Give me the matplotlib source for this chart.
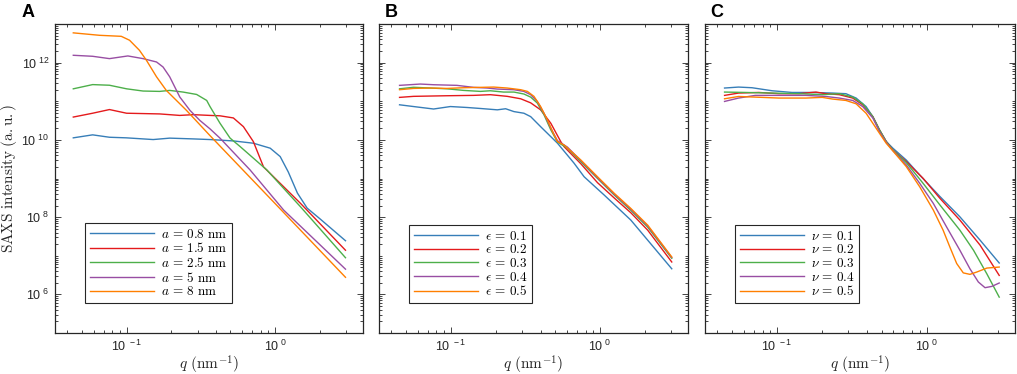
import numpy as np
import matplotlib
matplotlib.use("Agg")
import matplotlib.pyplot as plt
from matplotlib.ticker import FixedLocator, LogLocator, NullFormatter, FuncFormatter

plt.rcParams["font.family"] = ["Liberation Sans", "DejaVu Sans"]
plt.rcParams["mathtext.fontset"] = "cm"

# Panel A: varying a
qA_08 = [0.0438, 0.0591, 0.0767, 0.0995, 0.151, 0.195, 0.281, 0.364, 0.523, 0.713, 0.925, 1.08, 1.224, 1.41, 1.64, 2.01, 2.97]
IA_08 = [1.13e10, 1.35e10, 1.17e10, 1.13e10, 1.02e10, 1.11e10, 1.06e10, 1.02e10, 9.4e9, 8.2e9, 6.1e9, 3.7e9, 1.48e9, 4.2e8, 1.71e8, 8.9e7, 2.45e7]
qA_15 = [0.0438, 0.0591, 0.0767, 0.1, 0.167, 0.228, 0.281, 0.364, 0.425, 0.523, 0.611, 0.713, 0.834, 0.974, 1.48, 2.97]
IA_15 = [3.9e10, 4.9e10, 6.1e10, 4.9e10, 4.7e10, 4.3e10, 4.5e10, 4.3e10, 4.2e10, 3.7e10, 2.2e10, 9.0e9, 2.0e9, 1.11e9, 2.27e8, 1.39e7]
qA_25 = [0.0438, 0.0591, 0.0767, 0.1, 0.129, 0.167, 0.195, 0.240, 0.296, 0.346, 0.364, 0.425, 0.497, 0.581, 0.879, 1.48, 2.97]
IA_25 = [2.1e11, 2.7e11, 2.6e11, 2.1e11, 1.84e11, 1.80e11, 1.91e11, 1.73e11, 1.50e11, 1.05e11, 7.3e10, 2.7e10, 1.11e10, 6.7e9, 1.66e9, 1.85e8, 8.9e6]
qA_5 = [0.0438, 0.0591, 0.0767, 0.102, 0.129, 0.159, 0.176, 0.195, 0.228, 0.267, 0.311, 0.364, 0.425, 0.678, 1.14, 2.97]
IA_5 = [1.55e12, 1.46e12, 1.27e12, 1.49e12, 1.27e12, 1.04e12, 7.7e11, 4.3e11, 1.29e11, 5.8e10, 3.2e10, 1.93e10, 1.11e10, 1.66e9, 1.52e8, 4.5e6]
qA_8 = [0.0438, 0.0658, 0.0921, 0.1047, 0.122, 0.136, 0.159, 0.185, 0.253, 0.364, 1.0, 2.97]
IA_8 = [5.9e12, 5.1e12, 4.8e12, 3.8e12, 2.09e12, 1.15e12, 4.3e11, 1.91e11, 5.8e10, 1.29e10, 2.23e8, 2.77e6]

# Panel B: varying epsilon
qB_1 = [0.0453, 0.0562, 0.0766, 0.0993, 0.1285, 0.158, 0.205, 0.233, 0.265, 0.309, 0.343, 0.400, 0.519, 0.670, 0.783, 1.07, 1.61, 3.03]
IB_1 = [8.1e10, 7.3e10, 6.3e10, 7.3e10, 6.9e10, 6.5e10, 6.0e10, 6.4e10, 5.4e10, 4.9e10, 4.0e10, 2.2e10, 8.2e9, 2.5e9, 1.11e9, 3.7e8, 8.4e7, 4.6e6]
qB_2 = [0.0453, 0.0562, 0.0943, 0.142, 0.184, 0.239, 0.294, 0.343, 0.400, 0.468, 0.546, 0.574, 0.745, 0.963, 1.25, 1.61, 2.09, 3.03]
IB_2 = [1.26e11, 1.34e11, 1.39e11, 1.42e11, 1.48e11, 1.34e11, 1.16e11, 9.1e10, 6.0e10, 2.7e10, 9.0e9, 6.7e9, 2.4e9, 7.8e8, 3.1e8, 1.3e8, 4.6e7, 6.9e6]
qB_3 = [0.0453, 0.0562, 0.0728, 0.0943, 0.122, 0.158, 0.184, 0.226, 0.265, 0.309, 0.343, 0.380, 0.421, 0.468, 0.519, 0.605, 0.745, 0.963, 1.25, 1.61, 2.09, 3.03]
IB_3 = [2.1e11, 2.3e11, 2.2e11, 2.1e11, 1.91e11, 1.80e11, 1.87e11, 1.73e11, 1.73e11, 1.54e11, 1.28e11, 9.0e10, 4.5e10, 1.82e10, 8.8e9, 6.1e9, 2.7e9, 1.0e9, 3.7e8, 1.5e8, 5.5e7, 8.6e6]
qB_4 = [0.0453, 0.0624, 0.0766, 0.110, 0.142, 0.175, 0.205, 0.265, 0.309, 0.343, 0.380, 0.421, 0.468, 0.519, 0.605, 0.745, 0.963, 1.25, 1.61, 2.09, 3.03]
IB_4 = [2.58e11, 2.79e11, 2.68e11, 2.58e11, 2.29e11, 2.20e11, 2.07e11, 1.99e11, 1.80e11, 1.48e11, 9.9e10, 4.9e10, 2.01e10, 9.5e9, 6.5e9, 2.9e9, 1.05e9, 3.9e8, 1.6e8, 5.9e7, 9.0e6]
qB_5 = [0.0453, 0.0562, 0.0728, 0.0943, 0.122, 0.158, 0.194, 0.239, 0.294, 0.326, 0.361, 0.400, 0.444, 0.492, 0.519, 0.574, 0.745, 0.963, 1.25, 1.61, 2.09, 3.03]
IB_5 = [1.99e11, 2.15e11, 2.20e11, 2.15e11, 2.24e11, 2.29e11, 2.33e11, 2.20e11, 1.99e11, 1.80e11, 1.34e11, 7.3e10, 3.3e10, 1.35e10, 9.0e9, 7.4e9, 3.0e9, 1.11e9, 4.1e8, 1.68e8, 6.2e7, 9.3e6]

# Panel C: varying nu
qC_1 = [0.0446, 0.0553, 0.0681, 0.0928, 0.126, 0.172, 0.235, 0.289, 0.338, 0.394, 0.437, 0.484, 0.537, 0.595, 0.732, 0.900, 1.23, 1.67, 2.28, 3.06]
IC_1 = [2.20e11, 2.33e11, 2.24e11, 1.87e11, 1.69e11, 1.69e11, 1.63e11, 1.57e11, 1.21e11, 7.3e10, 4.0e10, 1.82e10, 9.1e9, 6.1e9, 3.0e9, 1.23e9, 3.4e8, 1.02e8, 2.53e7, 6.5e6]
qC_2 = [0.0446, 0.0553, 0.0755, 0.103, 0.140, 0.182, 0.212, 0.261, 0.321, 0.374, 0.437, 0.484, 0.537, 0.595, 0.732, 0.948, 1.23, 1.67, 2.28, 3.06]
IC_2 = [1.42e11, 1.63e11, 1.69e11, 1.57e11, 1.57e11, 1.73e11, 1.57e11, 1.48e11, 1.21e11, 8.1e10, 4.0e10, 1.82e10, 9.1e9, 5.5e9, 2.74e9, 1.01e9, 3.05e8, 8.4e7, 1.88e7, 3.1e6]
qC_3 = [0.0446, 0.0614, 0.0928, 0.140, 0.201, 0.261, 0.321, 0.374, 0.437, 0.484, 0.537, 0.595, 0.732, 0.948, 1.23, 1.67, 2.06, 2.53, 3.06]
IC_3 = [1.73e11, 1.69e11, 1.63e11, 1.57e11, 1.48e11, 1.57e11, 1.28e11, 8.6e10, 4.0e10, 1.82e10, 9.1e9, 5.5e9, 2.58e9, 7.5e8, 2.05e8, 4.6e7, 1.39e7, 3.4e6, 8.5e5]
qC_4 = [0.0446, 0.0553, 0.0717, 0.103, 0.156, 0.212, 0.261, 0.321, 0.374, 0.437, 0.484, 0.537, 0.595, 0.732, 0.900, 1.11, 1.36, 1.67, 1.95, 2.22, 2.46, 2.73, 3.06]
IC_4 = [9.9e10, 1.21e11, 1.42e11, 1.42e11, 1.42e11, 1.33e11, 1.21e11, 1.05e11, 7.3e10, 3.7e10, 1.65e10, 8.7e9, 5.3e9, 2.24e9, 7.5e8, 2.26e8, 5.6e7, 1.39e7, 4.6e6, 2.09e6, 1.49e6, 1.61e6, 1.97e6]
qC_5 = [0.0446, 0.0553, 0.0717, 0.103, 0.156, 0.201, 0.235, 0.289, 0.338, 0.394, 0.437, 0.484, 0.537, 0.595, 0.732, 0.900, 1.11, 1.29, 1.43, 1.59, 1.76, 1.95, 2.17, 2.53, 3.06]
IC_5 = [1.16e11, 1.33e11, 1.28e11, 1.21e11, 1.21e11, 1.26e11, 1.14e11, 1.05e11, 8.6e10, 4.9e10, 2.7e10, 1.49e10, 8.2e9, 5.2e9, 2.03e9, 6.1e8, 1.52e8, 4.6e7, 1.70e7, 6.3e6, 3.6e6, 3.3e6, 3.8e6, 4.8e6, 5.1e6]

labels_A = [r"$a\,=\,0.8\ \mathrm{nm}$", r"$a\,=\,1.5\ \mathrm{nm}$", r"$a\,=\,2.5\ \mathrm{nm}$",
            r"$a\,=\,5\ \mathrm{nm}$", r"$a\,=\,8\ \mathrm{nm}$"]
labels_B = [r"$\epsilon\,=\,0.1$", r"$\epsilon\,=\,0.2$", r"$\epsilon\,=\,0.3$", r"$\epsilon\,=\,0.4$", r"$\epsilon\,=\,0.5$"]
labels_C = [r"$\nu\,=\,0.1$", r"$\nu\,=\,0.2$", r"$\nu\,=\,0.3$", r"$\nu\,=\,0.4$", r"$\nu\,=\,0.5$"]

colors = ["#377EB8", "#E41A1C", "#4DAF4A", "#984EA3", "#FF7F00"]
edge = "#262626"


def style_axis(ax, show_ylabels):
    ax.set_xscale("log")
    ax.set_yscale("log")
    ax.set_xlim(0.033, 3.9)
    ax.set_ylim(1e5, 1e13)
    ax.xaxis.set_major_locator(FixedLocator([0.1, 1.0]))
    ax.yaxis.set_major_locator(FixedLocator([1e6, 1e8, 1e10, 1e12]))
    ax.xaxis.set_minor_locator(LogLocator(base=10, subs=np.arange(1, 10), numticks=20))
    ax.yaxis.set_minor_locator(LogLocator(base=10, subs=np.arange(1, 10), numticks=30))
    fmt = FuncFormatter(lambda v, p: r"$\mathdefault{10^{\ %d}}$" % round(np.log10(v)))
    ax.xaxis.set_major_formatter(fmt)
    ax.yaxis.set_major_formatter(fmt if show_ylabels else NullFormatter())
    ax.xaxis.set_minor_formatter(NullFormatter())
    ax.yaxis.set_minor_formatter(NullFormatter())
    ax.tick_params(which="both", direction="in", top=True, right=True, color=edge,
                   width=0.6, labelsize=9, labelcolor=edge)
    ax.tick_params(which="major", length=4.5, pad=4)
    ax.tick_params(which="minor", length=2.5)
    for s in ax.spines.values():
        s.set_color(edge)
        s.set_linewidth(0.9)
    ax.set_xlabel(r"$q\ (\mathrm{nm}^{-1})$", fontsize=11, color=edge, labelpad=0)


def add_legend(ax):
    leg = ax.legend(loc="lower left", bbox_to_anchor=(0.097, 0.097), fancybox=False,
                    edgecolor=edge, framealpha=1, fontsize=9.5, handlelength=4.9,
                    handletextpad=0.5, labelspacing=0.05, borderpad=0.35, borderaxespad=0)
    leg.get_frame().set_linewidth(0.8)


fig = plt.figure(figsize=(10.17, 3.74), dpi=100)
axA = fig.add_axes([0.0541, 0.1096, 0.3029, 0.8262])
axB = fig.add_axes([0.3727, 0.1096, 0.3039, 0.8262])
axC = fig.add_axes([0.6932, 0.1096, 0.3048, 0.8262])

seriesA = [(qA_08, IA_08), (qA_15, IA_15), (qA_25, IA_25), (qA_5, IA_5), (qA_8, IA_8)]
seriesB = [(qB_1, IB_1), (qB_2, IB_2), (qB_3, IB_3), (qB_4, IB_4), (qB_5, IB_5)]
seriesC = [(qC_1, IC_1), (qC_2, IC_2), (qC_3, IC_3), (qC_4, IC_4), (qC_5, IC_5)]

for ax, series, labels in [(axA, seriesA, labels_A), (axB, seriesB, labels_B), (axC, seriesC, labels_C)]:
    for (q, I), c, lab in zip(series, colors, labels):
        ax.plot(q, I, color=c, lw=1.0, label=lab)
    style_axis(ax, ax is axA)
    add_legend(ax)

axA.set_ylabel(r"$\mathrm{SAXS\ intensity\ (a.u.)}$", fontsize=11, color=edge)
axA.yaxis.set_label_coords(-0.117, 0.5)

for x, letter in [(0.0216, "A"), (0.3786, "B"), (0.698, "C")]:
    fig.text(x, 0.9545, letter, fontsize=13, fontweight="bold", va="baseline")

fig.savefig("out.png", dpi=100)
